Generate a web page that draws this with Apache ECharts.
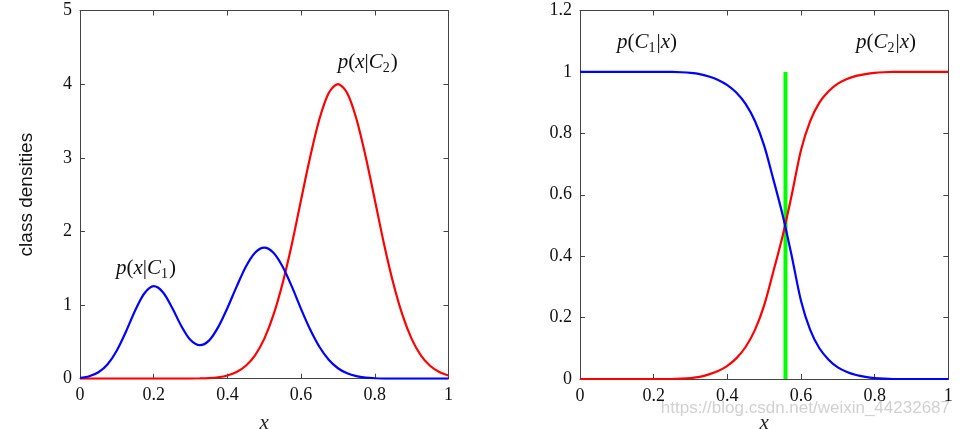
<!DOCTYPE html>
<html><head><meta charset="utf-8">
<script src="https://cdn.jsdelivr.net/npm/echarts@6/dist/echarts.min.js"></script>
<style>html,body{margin:0;padding:0;background:#fff}#c{width:960px;height:429px}</style>
</head><body><div id="c"></div>
<script>
// ---- data ----
const xValues = [0,0.025,0.05,0.075,0.1,0.125,0.15,0.175,0.2,0.225,0.25,0.275,0.3,0.325,0.35,0.375,0.4,0.425,0.45,0.475,0.5,0.525,0.55,0.575,0.6,0.625,0.65,0.675,0.7,0.725,0.75,0.775,0.8,0.825,0.85,0.875,0.9,0.925,0.95,0.975,1];
const densityC1 = [0.011,0.033,0.087,0.197,0.383,0.642,0.93,1.16,1.256,1.175,0.964,0.715,0.525,0.455,0.517,0.70,0.96,1.25,1.52,1.71,1.78,1.71,1.52,1.25,0.945,0.664,0.43,0.258,0.142,0.073,0.034,0.015,0.006,0.002,0.001,0,0,0,0,0,0];
const densityC2 = [0,0,0,0,0,0,0,0,0,0,0,0.0005,0.0013,0.004,0.0088,0.02,0.044,0.091,0.176,0.318,0.541,0.866,1.30,1.83,2.43,3.02,3.53,3.88,4.0,3.88,3.53,3.02,2.43,1.83,1.30,0.866,0.541,0.318,0.176,0.091,0.044];
const posteriorC2 = [0,0,0,0,0,0,0,0,0,0,0,0.001,0.003,0.007,0.015,0.026,0.043,0.068,0.105,0.16,0.24,0.35,0.465,0.6,0.745,0.84,0.9,0.937,0.962,0.977,0.987,0.993,0.997,0.999,1,1,1,1,1,1,1];
const posteriorC1 = [1,1,1,1,1,1,1,1,1,1,1,0.999,0.997,0.993,0.985,0.974,0.957,0.932,0.895,0.84,0.76,0.65,0.535,0.4,0.255,0.16,0.1,0.063,0.038,0.023,0.013,0.007,0.003,0.001,0,0,0,0,0,0,0];
const decisionX = [0.558, 0.558];
const decisionY = [0, 1];
const xTicks = {min: 0, max: 1, interval: 0.2};
const leftY = {min: 0, max: 5, interval: 1};
const rightY = {min: 0, max: 1.2, interval: 0.2};

const zip = (xs, ys) => xs.map((x, i) => [x, ys[i]]);

const axisColor = '#444';
const serif = 'Liberation Serif';
function xAxes(g) {
  return [
    {gridIndex: g, type: 'value', min: xTicks.min, max: xTicks.max, interval: xTicks.interval, position: 'bottom',
     name: 'x', nameLocation: 'middle', nameGap: 34,
     nameTextStyle: {fontFamily: serif, fontStyle: 'italic', fontSize: 21, color: '#222'},
     axisLine: {show: true, onZero: false, lineStyle: {color: axisColor, width: 1}},
     axisTick: {show: true, inside: true, length: 5, lineStyle: {color: axisColor}},
     axisLabel: {fontFamily: serif, fontSize: 18, color: '#111', margin: 8},
     splitLine: {show: false}},
    {gridIndex: g, type: 'value', min: xTicks.min, max: xTicks.max, interval: xTicks.interval, position: 'top',
     axisLine: {show: true, onZero: false, lineStyle: {color: axisColor, width: 1}},
     axisTick: {show: true, inside: true, length: 5, lineStyle: {color: axisColor}},
     axisLabel: {show: false}, splitLine: {show: false}}
  ];
}
function yAxes(g, r, name) {
  return [
    {gridIndex: g, type: 'value', min: r.min, max: r.max, interval: r.interval, position: 'left',
     name: name || '', nameLocation: 'middle', nameGap: 44, nameRotate: 90,
     nameTextStyle: {fontFamily: 'Liberation Sans', fontSize: 19, color: '#111'},
     axisLine: {show: true, onZero: false, lineStyle: {color: axisColor, width: 1}},
     axisTick: {show: true, inside: true, length: 5, lineStyle: {color: axisColor}},
     axisLabel: {fontFamily: serif, fontSize: 18, color: '#111', margin: 8},
     splitLine: {show: false}},
    {gridIndex: g, type: 'value', min: r.min, max: r.max, interval: r.interval, position: 'right',
     axisLine: {show: true, onZero: false, lineStyle: {color: axisColor, width: 1}},
     axisTick: {show: true, inside: true, length: 5, lineStyle: {color: axisColor}},
     axisLabel: {show: false}, splitLine: {show: false}}
  ];
}

const rich = {
  i: {fontFamily: serif, fontStyle: 'italic', fontSize: 21, color: '#111', lineHeight: 24},
  n: {fontFamily: serif, fontSize: 21, color: '#111', lineHeight: 24},
  s: {fontFamily: serif, fontSize: 14, color: '#111', lineHeight: 14, padding: [12, 1, 0, 0]}
};
function mathLabel(text, coord) {
  return {coord: coord, symbol: 'circle', symbolSize: 0,
    label: {show: true, position: 'inside', formatter: text, rich: rich}};
}

const option = {
  animation: false,
  backgroundColor: '#fff',
  grid: [
    {left: 80, right: 511.5, top: 10.5, bottom: 50.3, outerBoundsMode: 'none', containLabel: false},
    {left: 580, right: 11.7, top: 10.5, bottom: 50, outerBoundsMode: 'none', containLabel: false}
  ],
  xAxis: [...xAxes(0), ...xAxes(1)],
  yAxis: [...yAxes(0, leftY, 'class densities'), ...yAxes(1, rightY)],
  series: [
    {type: 'line', xAxisIndex: 0, yAxisIndex: 0, data: zip(xValues, densityC2), smooth: 0.3, symbol: 'none',
     lineStyle: {color: '#ff0000', width: 2.2}, z: 3,
     markPoint: {symbol: 'circle', symbolSize: 0, data: [mathLabel('{i|p}{n|(}{i|x}{n||}{i|C}{s|2}{n|)}', [0.781, 4.3])]}},
    {type: 'line', xAxisIndex: 0, yAxisIndex: 0, data: zip(xValues, densityC1), smooth: 0.3, symbol: 'none',
     lineStyle: {color: '#0000ff', width: 2.2}, z: 4,
     markPoint: {symbol: 'circle', symbolSize: 0, data: [mathLabel('{i|p}{n|(}{i|x}{n||}{i|C}{s|1}{n|)}', [0.179, 1.5])]}},
    {type: 'line', xAxisIndex: 2, yAxisIndex: 2, data: zip(xValues, posteriorC2), smooth: 0.3, symbol: 'none',
     lineStyle: {color: '#ff0000', width: 2.2}, z: 3,
     markPoint: {symbol: 'circle', symbolSize: 0, data: [mathLabel('{i|p}{n|(}{i|C}{s|2}{n||}{i|x}{n|)}', [0.831, 1.097])]}},
    {type: 'line', xAxisIndex: 2, yAxisIndex: 2, data: zip(xValues, posteriorC1), smooth: 0.3, symbol: 'none',
     lineStyle: {color: '#0000ff', width: 2.2}, z: 4,
     markPoint: {symbol: 'circle', symbolSize: 0, data: [mathLabel('{i|p}{n|(}{i|C}{s|1}{n||}{i|x}{n|)}', [0.182, 1.097])]}},
    {type: 'line', xAxisIndex: 2, yAxisIndex: 2, data: zip(decisionX, decisionY), symbol: 'none',
     lineStyle: {color: '#00ff00', width: 4}, z: 2}
  ],
  graphic: [
    {type: 'text', right: 10, top: 400, z: 100, silent: true,
     style: {text: 'https://blog.csdn.net/weixin_44232687', font: '17px "Liberation Sans"', fill: 'rgba(170,170,170,0.55)'}}
  ]
};
const chart = echarts.init(document.getElementById('c'), null, {renderer: 'canvas'});
chart.setOption(option);
</script>
</body></html>
